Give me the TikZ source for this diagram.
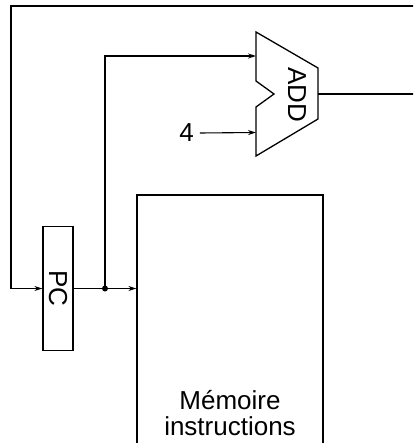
\documentclass[tikz,border=0pt]{standalone}
\usepackage{fontspec}
\setmainfont{Liberation Sans}
\usetikzlibrary{arrows.meta,calc}
\begin{document}
\begin{tikzpicture}[x=1pt,y=-1pt,
  box/.style={draw,line width=1.3pt,inner sep=0pt},
  wire/.style={line width=1.1pt},
  arr/.style={wire,-{Stealth[length=8pt,width=5pt]}},
  lbl/.style={font=\fontsize{26}{25.7}\selectfont,inner sep=0pt},
  dot/.style={circle,fill,inner sep=0pt,minimum size=6pt}]
\useasboundingbox (0,0) rectangle (413,443);
\clip (0,0) rectangle (413,443);
% PC register
\node[box,rotate=-90,minimum width=124pt,minimum height=30pt,lbl] (PC) at (58,288.5) {PC};
% instruction memory
\node[box,minimum width=186pt,minimum height=290pt] (mem) at (230,340) {};
\node[lbl,align=center,anchor=base] (memlabel) at (230,435) {Mémoire\\instructions};
% adder
\coordinate (addin1) at (256,56);
\coordinate (addin2) at (256,132.5);
\coordinate (addout) at (318,94);
\draw[line width=1.3pt,line join=miter] (256,32) -- (318,68) -- (318,119) -- (256,156) -- (256,107) -- (274,94) -- (256,81) -- cycle;
\node[lbl,rotate=-90] (addlabel) at (297,95) {ADD};
% constant 4
\node[lbl] (four) at (186.5,133) {4};
% wires
\coordinate (junction) at (105,288.5);
\coordinate (outend) at (415,94);
\coordinate (fbstart) at (415,6);
\coordinate (fbcorner) at (11,288.5);
\draw[wire] (addout) -- (outend);
\draw[arr] (fbstart) -| (fbcorner) -- (PC.south);
\draw[arr] (PC.north) -- (PC.north -| mem.west);
\draw[arr] (junction) |- (addin1);
\draw[arr] ([xshift=6pt]four.east) -- (addin2);
\node[dot] (jdot) at (junction) {};
\end{tikzpicture}
\end{document}
